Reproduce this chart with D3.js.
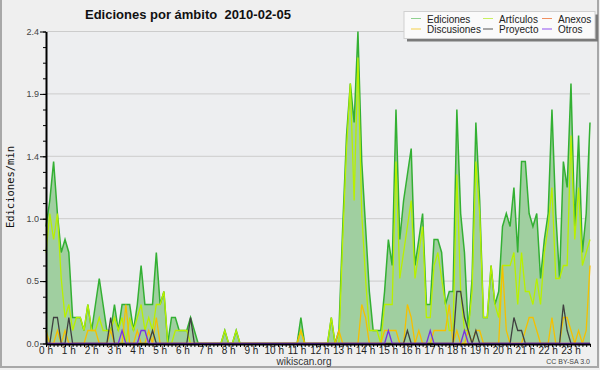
<!DOCTYPE html>
<html>
<head>
<meta charset="utf-8">
<script src="https://cdn.jsdelivr.net/npm/d3@7"></script>
<style>
  body { margin: 0; background: #efefef; }
  svg { display: block; }
</style>
</head>
<body>
<svg width="600" height="370"></svg>
<script>
// Edits per minute, one value per 10 minute slot (144 slots)
let ediciones = [
  0.9,1.1,1.4,1.0,0.7,0.8,0.7,0.2,0.2,0.2,0.1,0.3,
  0.1,0.3,0.5,0.3,0.1,0.1,0.3,0.1,0.3,0.3,0.3,0.1,
  0.3,0.6,0.3,0.3,0.3,0.7,0.3,0.4,0,0.2,0.2,0.1,
  0.1,0.1,0.2,0.1,0,0,0,0,0,0,0,0.1,
  0,0,0.1,0,0,0,0,0,0,0,0,0,
  0,0,0,0,0,0,0,0.2,0,0,0,0,
  0,0,0,0.2,0,0.1,0.9,1.6,2.0,1.7,2.4,1.4,
  0.9,0.4,0.1,0.1,0.1,0.4,0.8,0.6,1.8,0.8,1.1,1.3,
  1.5,0.6,0.8,1.0,0.3,0.3,0.8,0.8,0.7,0.3,0.4,0.4,
  1.8,1.0,0.7,0.1,0.5,1.7,1.1,0.2,0.2,0.6,0.3,0.4,
  0.9,1.0,0.9,1.2,0.7,1.4,1.4,1.0,0.9,1.0,0.5,0.8,
  1.0,1.8,1.0,0.5,1.4,1.2,2.0,0.9,1.6,0.7,1.0,1.7
];
let articulos = [
  0.7,1.0,0.8,1.0,0.5,0.2,0.3,0.1,0.2,0.2,0.1,0.3,
  0.1,0.1,0.2,0.1,0.1,0.1,0.2,0.1,0.2,0,0.2,0.1,
  0.2,0.3,0.1,0.2,0.1,0.3,0.3,0.4,0,0,0.1,0.1,
  0.1,0.1,0,0,0,0,0,0,0,0,0,0.1,
  0,0,0.1,0,0,0,0,0,0,0,0,0,
  0,0,0,0,0,0,0,0.1,0,0,0,0,
  0,0,0,0.2,0,0,0.8,1.5,2.0,1.1,2.2,1.0,
  0.5,0.1,0.1,0.1,0,0.3,0.3,0.3,1.4,0.5,0.7,0.9,
  1.1,0.5,0.7,0.9,0.2,0.2,0.6,0.7,0.5,0.3,0.1,0.1,
  1.3,0.4,0.1,0.1,0.4,1.4,1.0,0.2,0.2,0.6,0.3,0.2,
  0.6,0.6,0.6,0.7,0.3,0.7,0.4,0.4,0.3,0.5,0.3,0.7,
  0.9,1.2,0.5,0.5,0.6,0.6,1.6,0.8,1.2,0.6,0.7,0.8
];
let discusiones = [
  0.1,0,0,0.1,0,0.1,0,0,0,0,0,0.1,
  0.1,0.1,0,0,0,0.1,0,0,0,0.3,0,0,
  0.1,0,0,0.1,0,0.2,0,0,0,0,0,0,
  0,0,0,0,0,0,0,0,0,0,0,0,
  0,0,0,0,0,0,0,0,0,0,0,0,
  0,0,0,0,0,0,0,0.1,0,0,0,0,
  0,0,0,0,0,0.1,0,0,0,0,0,0.3,
  0.2,0,0,0,0,0.1,0.1,0.1,0.1,0,0,0.3,
  0.2,0,0.1,0,0,0,0.1,0.1,0.1,0.1,0.3,0,
  0.1,0,0,0.1,0,0.1,0.1,0,0,0,0,0,
  0.6,0.1,0,0,0,0,0.1,0.2,0.2,0.1,0,0,
  0,0.2,0,0,0.2,0.2,0.1,0,0.1,0,0.1,0.6
];
let proyecto = [
  0,0,0.2,0.2,0,0,0.2,0,0,0,0,0,
  0,0,0,0,0,0.2,0,0,0,0,0,0,
  0,0,0,0,0.1,0,0,0,0,0,0,0,
  0,0,0.2,0,0,0,0,0,0,0,0,0,
  0,0,0,0,0,0,0,0,0,0,0,0,
  0,0,0,0,0,0,0,0,0,0,0,0,
  0,0,0,0,0,0,0,0,0,0,0,0,
  0,0,0,0,0,0,0,0,0,0,0,0.1,
  0,0,0,0,0,0,0,0,0,0,0,0,
  0.4,0.4,0.2,0.1,0,0.1,0,0,0,0,0,0,
  0,0,0,0.2,0.1,0.1,0,0,0,0,0,0,
  0,0,0,0,0.3,0.1,0,0,0,0,0,0
];
let otros = [
  0,0,0,0,0,0,0,0,0,0,0,0,
  0,0,0,0,0,0,0,0,0.1,0,0,0,
  0,0.1,0.1,0,0,0,0,0,0,0,0,0,
  0,0,0,0,0,0,0,0,0,0,0,0,
  0,0,0,0,0,0,0,0,0,0,0,0,
  0,0,0,0,0,0,0,0,0,0,0,0,
  0,0,0,0,0,0,0,0,0,0,0,0,
  0,0,0,0,0,0,0.1,0,0,0,0,0,
  0,0,0,0,0,0.1,0,0,0,0,0,0,
  0,0,0.1,0,0,0,0,0,0,0,0,0,
  0,0,0,0,0,0,0,0,0,0,0,0,
  0,0,0,0,0,0,0,0,0,0,0,0
];
let anexos = [
  0,0,0,0,0,0,0,0,0,0,0,0,
  0,0,0,0,0,0,0,0,0,0,0,0,
  0,0,0,0,0,0,0,0,0,0,0,0,
  0,0,0,0,0,0,0,0,0,0,0,0,
  0,0,0,0,0,0,0,0,0,0,0,0,
  0,0,0,0,0,0,0,0,0,0,0,0,
  0,0,0,0,0,0,0,0,0,0,0,0,
  0,0,0,0,0,0,0,0,0,0,0,0,
  0,0,0,0,0,0,0,0,0,0,0,0,
  0,0,0,0,0,0,0,0,0,0,0,0,
  0,0,0,0,0,0,0,0,0,0,0,0,
  0,0,0,0,0,0,0,0,0,0,0,0
];

// Axis labels
let hourLabels = ["0 h","1 h","2 h","3 h","4 h","5 h","6 h","7 h","8 h","9 h","10 h","11 h",
                  "12 h","13 h","14 h","15 h","16 h","17 h","18 h","19 h","20 h","21 h","22 h","23 h"];
let yTicks = [0, 0.48, 0.96, 1.44, 1.92, 2.4];
let yLabels = ["0.0", "0.5", "1.0", "1.4", "1.9", "2.4"];

let legendNames = ["Ediciones", "Discusiones", "Artículos", "Proyecto", "Anexos", "Otros"];
let legendColors = ["#8fd08f", "#f5d04a", "#c8f060", "#555555", "#f09060", "#9050f0"];

let svg = d3.select("svg"),
    width = +svg.attr("width"),
    height = +svg.attr("height");

let x = d3.scaleLinear().domain([0, 143]).range([46, 590]);
let y = d3.scaleLinear().domain([0, 2.4]).range([343.5, 31.5]);

// Background and frame
svg.append("rect").attr("width", width).attr("height", height).attr("fill", "#efefef");
svg.append("rect")
    .attr("x", 1).attr("y", -5).attr("width", 597).attr("height", 372)
    .attr("fill", "none").attr("stroke", "#a8a8a8").attr("stroke-width", 2);
svg.append("rect")
    .attr("x", 46).attr("y", 31.5).attr("width", 544).attr("height", 312)
    .attr("fill", "#edeef0");

// Grid
svg.selectAll(".grid")
    .data(yTicks.slice(1))
    .enter().append("line")
    .attr("x1", 46).attr("x2", 590)
    .attr("y1", d => y(d)).attr("y2", d => y(d))
    .attr("stroke", "#cccccc").attr("stroke-width", 1);

// Total as filled area
let area = d3.area()
    .x((d, i) => x(i))
    .y0(y(0))
    .y1(d => y(d));
let line = d3.line()
    .x((d, i) => x(i))
    .y(d => y(d));

svg.append("path").datum(ediciones)
    .attr("d", area)
    .attr("fill", "#a0cfa0");

let series = [
    {data: ediciones, color: "#33b033", w: 1.5},
    {data: articulos, color: "#b8f000", w: 1.3},
    {data: anexos, color: "#f08040", w: 1.3},
    {data: discusiones, color: "#f5c000", w: 1.3},
    {data: proyecto, color: "#404040", w: 1.3},
    {data: otros, color: "#7a30e0", w: 1.3}
];
svg.selectAll(".serie")
    .data(series)
    .enter().append("path")
    .attr("d", d => line(d.data))
    .attr("fill", "none")
    .attr("stroke", d => d.color)
    .attr("stroke-width", d => d.w)
    .attr("stroke-linejoin", "miter");

// Y axis
let yMinor = svg.append("g").attr("transform", "translate(46,0)")
    .call(d3.axisLeft(y).tickValues(d3.range(0, 2.41, 0.12)).tickSize(3).tickFormat(""));
yMinor.select(".domain").remove();
let yAxis = svg.append("g").attr("transform", "translate(46,0)")
    .call(d3.axisLeft(y).tickValues(yTicks).tickFormat((d, i) => yLabels[i]).tickSize(6).tickSizeOuter(0).tickPadding(1));
yAxis.selectAll("text")
    .attr("font-family", "Liberation Sans, Arial, sans-serif")
    .attr("font-size", 9).attr("fill", "#444");
yAxis.select(".domain").attr("stroke-width", 2);

// X axis
let xAxis = svg.append("g").attr("transform", "translate(0,344)")
    .call(d3.axisBottom(x).tickValues(d3.range(0, 144)).tickSize(3).tickSizeOuter(0).tickFormat(""));
xAxis.select(".domain").attr("stroke-width", 2);
svg.selectAll(".hour")
    .data(hourLabels)
    .enter().append("text")
    .attr("x", (d, i) => x(i * 6))
    .attr("y", 354)
    .attr("text-anchor", "middle")
    .attr("font-family", "Liberation Sans, Arial, sans-serif")
    .attr("font-size", 10)
    .attr("fill", "#222")
    .text(d => d);

// Titles
svg.append("text")
    .attr("x", 85).attr("y", 18.5)
    .attr("font-family", "Liberation Sans, Arial, sans-serif")
    .attr("font-weight", "bold").attr("font-size", 13)
    .attr("fill", "#111")
    .style("white-space", "pre")
    .text("Ediciones por ámbito  2010-02-05");
svg.append("text")
    .attr("transform", "translate(14,187) rotate(-90)")
    .attr("text-anchor", "middle")
    .attr("font-family", "DejaVu Sans Mono, monospace")
    .attr("font-size", 10.5)
    .attr("fill", "#111")
    .text("Ediciones/min");
svg.append("text")
    .attr("x", 304).attr("y", 365)
    .attr("text-anchor", "middle")
    .attr("font-family", "Liberation Sans, Arial, sans-serif")
    .attr("font-size", 10).attr("fill", "#333")
    .text("wikiscan.org");
svg.append("text")
    .attr("x", 590).attr("y", 364)
    .attr("text-anchor", "end")
    .attr("font-family", "Liberation Sans, Arial, sans-serif")
    .attr("font-size", 7).attr("fill", "#444")
    .text("CC BY-SA 3.0");

// Legend
svg.append("rect")
    .attr("x", 407).attr("y", 14.5).attr("width", 191).attr("height", 27)
    .attr("fill", "#7a7a7a");
svg.append("rect")
    .attr("x", 404).attr("y", 11.5).attr("width", 191).attr("height", 27)
    .attr("fill", "#fafafa").attr("stroke", "#d0d0d0");
let legendCols = [411, 483, 542];
let legend = svg.selectAll(".leg")
    .data(legendNames)
    .enter().append("g")
    .attr("transform", (d, i) => "translate(" + legendCols[Math.floor(i / 2)] + "," + (i % 2 === 0 ? 18.5 : 29) + ")");
legend.append("line")
    .attr("x1", 0).attr("x2", 10)
    .attr("stroke", (d, i) => legendColors[i]).attr("stroke-width", 1);
legend.append("text")
    .attr("x", 16).attr("y", 4)
    .attr("font-family", "Liberation Sans, Arial, sans-serif")
    .attr("font-size", 10).attr("fill", "#222")
    .text(d => d);
</script>
</body>
</html>
